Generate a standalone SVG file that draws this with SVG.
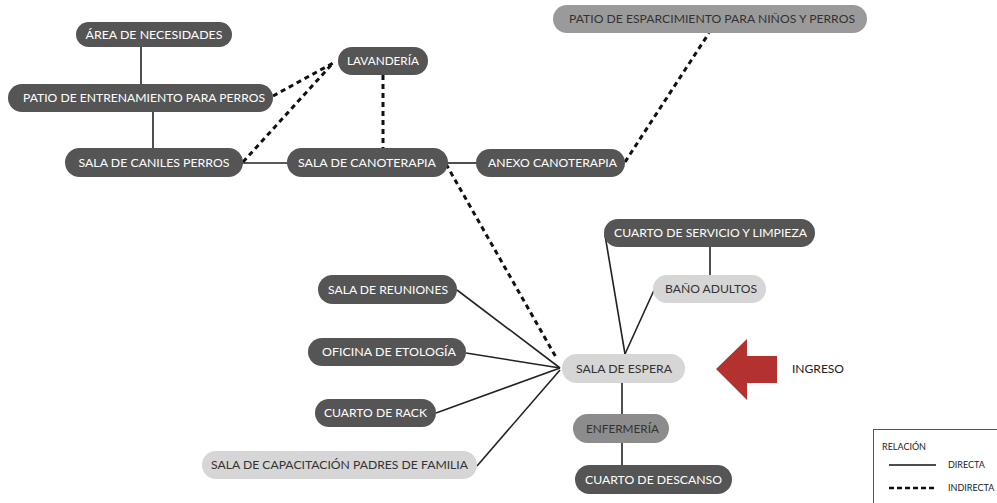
<svg xmlns="http://www.w3.org/2000/svg" width="997" height="503" viewBox="0 0 997 503">
<style>
.dk{fill:#555555}
.lt{fill:#d6d6d6}
.md{fill:#9a9a9a}
.me{fill:#8c8c8c}
text{font-family:Lato,"Open Sans","Liberation Sans",sans-serif;font-size:12px;text-anchor:middle}
.w{fill:#ffffff}
.b{fill:#333333}
.sol{stroke:#222222;stroke-width:1.6;fill:none}
.dsh{stroke:#111111;stroke-width:3;stroke-dasharray:5 4;fill:none}
.lg{font-size:9px;text-anchor:start;fill:#222222}
</style>
<rect width="997" height="503" fill="#ffffff"/>
<g id="connectors">
<line class="sol" x1="141" y1="46" x2="141" y2="86"/>
<line class="sol" x1="153" y1="110" x2="153" y2="149"/>
<line class="sol" x1="242" y1="163" x2="288" y2="163"/>
<line class="sol" x1="447" y1="163" x2="477" y2="163"/>
<line class="dsh" x1="273" y1="96" x2="335" y2="62"/>
<line class="dsh" x1="243" y1="162" x2="333" y2="63"/>
<line class="dsh" x1="383" y1="75" x2="383" y2="148"/>
<line class="dsh" x1="625" y1="162" x2="709" y2="33"/>
<line class="dsh" x1="446" y1="164" x2="557" y2="359"/>
<line class="sol" x1="457" y1="290" x2="560" y2="368"/>
<line class="sol" x1="466" y1="353" x2="560" y2="368"/>
<line class="sol" x1="436" y1="413" x2="560" y2="368"/>
<line class="sol" x1="477" y1="466" x2="560" y2="370"/>
<line class="sol" x1="625" y1="354" x2="605" y2="235"/>
<line class="sol" x1="625" y1="354" x2="655" y2="288"/>
<line class="sol" x1="710" y1="246" x2="710" y2="276"/>
<line class="sol" x1="622" y1="382" x2="622" y2="415"/>
<line class="sol" x1="622" y1="442" x2="622" y2="466"/>
</g>
<g id="area-necesidades"><rect class="dk" x="76" y="22" width="156" height="25" rx="12.5"/><text class="w" x="154" y="38.5" textLength="137" lengthAdjust="spacingAndGlyphs">ÁREA DE NECESIDADES</text></g>
<g id="patio-entrenamiento"><rect class="dk" x="8" y="84" width="265" height="28" rx="14"/><text class="w" x="144" y="102.3" textLength="242" lengthAdjust="spacingAndGlyphs">PATIO DE ENTRENAMIENTO PARA PERROS</text></g>
<g id="lavanderia"><rect class="dk" x="338" y="47" width="90" height="28" rx="14"/><text class="w" x="383" y="65.3" textLength="72" lengthAdjust="spacingAndGlyphs">LAVANDERÍA</text></g>
<g id="sala-caniles"><rect class="dk" x="65" y="148" width="178" height="29" rx="14.5"/><text class="w" x="154" y="166.8" textLength="151" lengthAdjust="spacingAndGlyphs">SALA DE CANILES PERROS</text></g>
<g id="sala-canoterapia"><rect class="dk" x="287" y="148" width="161" height="29" rx="14.5"/><text class="w" x="367" y="166.8" textLength="138" lengthAdjust="spacingAndGlyphs">SALA DE CANOTERAPIA</text></g>
<g id="anexo-canoterapia"><rect class="dk" x="476" y="149" width="149" height="28" rx="14"/><text class="w" x="552.5" y="167.3" textLength="129" lengthAdjust="spacingAndGlyphs">ANEXO CANOTERAPIA</text></g>
<g id="patio-esparcimiento"><rect class="md" x="553" y="5" width="314" height="28" rx="14"/><text class="b" x="712" y="23.3" textLength="286" lengthAdjust="spacingAndGlyphs">PATIO DE ESPARCIMIENTO PARA NIÑOS Y PERROS</text></g>
<g id="sala-reuniones"><rect class="dk" x="318" y="275" width="139" height="29" rx="14.5"/><text class="w" x="388" y="293.8" textLength="120" lengthAdjust="spacingAndGlyphs">SALA DE REUNIONES</text></g>
<g id="oficina-etologia"><rect class="dk" x="308" y="338" width="158" height="28" rx="14"/><text class="w" x="389" y="356.3" textLength="134" lengthAdjust="spacingAndGlyphs">OFICINA DE ETOLOGÍA</text></g>
<g id="cuarto-rack"><rect class="dk" x="315" y="399" width="121" height="28" rx="14"/><text class="w" x="375.5" y="417.3" textLength="103" lengthAdjust="spacingAndGlyphs">CUARTO DE RACK</text></g>
<g id="sala-capacitacion"><rect class="lt" x="202" y="451" width="275" height="28" rx="14"/><text class="b" x="339.5" y="469.3" textLength="257" lengthAdjust="spacingAndGlyphs">SALA DE CAPACITACIÓN PADRES DE FAMILIA</text></g>
<g id="cuarto-servicio"><rect class="dk" x="604" y="219" width="211" height="28" rx="14"/><text class="w" x="710.5" y="237.3" textLength="193" lengthAdjust="spacingAndGlyphs">CUARTO DE SERVICIO Y LIMPIEZA</text></g>
<g id="bano-adultos"><rect class="lt" x="653" y="275" width="113" height="28" rx="14"/><text class="b" x="711" y="293.3" textLength="92" lengthAdjust="spacingAndGlyphs">BAÑO ADULTOS</text></g>
<g id="sala-espera"><rect class="lt" x="562" y="354" width="123" height="29" rx="14.5"/><text class="b" x="624" y="372.8" textLength="96" lengthAdjust="spacingAndGlyphs">SALA DE ESPERA</text></g>
<g id="enfermeria"><rect class="me" x="573" y="414" width="96" height="29" rx="14.5"/><text class="b" x="622.5" y="432.8" textLength="73" lengthAdjust="spacingAndGlyphs">ENFERMERÍA</text></g>
<g id="cuarto-descanso"><rect class="dk" x="575" y="465" width="157" height="29" rx="14.5"/><text class="w" x="653.5" y="483.8" textLength="137" lengthAdjust="spacingAndGlyphs">CUARTO DE DESCANSO</text></g>
<g id="ingreso">
<polygon points="716,369 747,339 747,356 777,356 777,383 747,383 747,400" fill="#b3312e"/>
<text x="818" y="373" fill="#222222" textLength="52" lengthAdjust="spacingAndGlyphs">INGRESO</text>
</g>
<g id="legend">
<rect x="873.5" y="429.5" width="140" height="90" fill="#ffffff" stroke="#555555" stroke-width="1"/>
<text class="lg" x="882" y="450">RELACIÓN</text>
<line x1="889" y1="465" x2="936" y2="465" stroke="#111111" stroke-width="1.5"/>
<text class="lg" x="948" y="468">DIRECTA</text>
<line x1="889" y1="488" x2="936" y2="488" stroke="#111111" stroke-width="2.5" stroke-dasharray="5 3"/>
<text class="lg" x="948" y="491">INDIRECTA</text>
</g>
</svg>
